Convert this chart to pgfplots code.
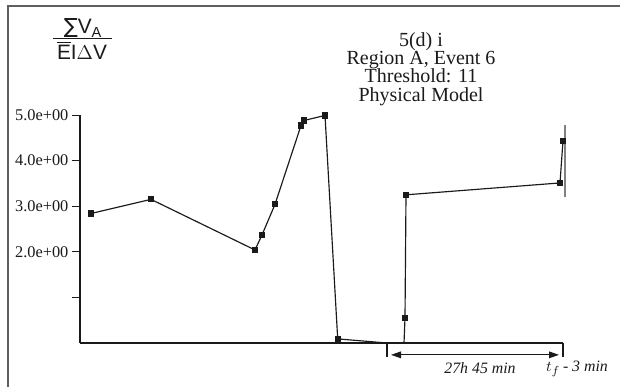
\documentclass[border=0pt]{standalone}
\usepackage{pgfplots}
\pgfplotsset{compat=1.18}
\usepackage{fontspec}
\setmainfont{Liberation Serif}
\newfontfamily\arial{Liberation Sans}
\newfontfamily\dejavu{DejaVu Sans}
\usetikzlibrary{arrows.meta}
\definecolor{ink}{HTML}{1A1A1A}
\begin{document}
\begin{tikzpicture}
\begin{axis}[
  scale only axis, width=289.8pt, height=136.8pt,
  xmin=80, xmax=563, ymin=0, ymax=5,
  axis x line*=bottom, axis y line*=left,
  xtick=\empty, ytick={1,2,3,4,5},
  yticklabels={,2.0e+00,3.0e+00,4.0e+00,5.0e+00},
  tick align=outside, major tick length=4.8pt,
  tick style={ink, line width=0.6pt},
  axis line style={ink, line width=0.7pt},
  yticklabel style={font=\fontsize{9.8}{10}\selectfont, text=ink, inner sep=2pt},
  clip=false,
]
\addplot[ink, line width=0.7pt, mark=square*, mark size=1.5pt,
  mark options={solid, fill=ink}] coordinates {
  (91,2.84) (151,3.15) (255,2.04) (262,2.37) (275,3.04) (301,4.77)
  (304,4.88) (325,4.99) (337.7,0.09)};
\addplot[ink, line width=0.7pt] coordinates {(337.7,0.09) (387,0)};
\addplot[ink, line width=0.7pt] coordinates {(404,0) (405,0.55) (406,3.25) (560,3.51) (563,4.44)};
\addplot[ink, only marks, mark=square*, mark size=1.5pt, mark options={fill=ink}] coordinates {
  (405,0.55) (406,3.25) (560,3.51) (563,4.44)};
% decorations
\draw[ink, line width=0.7pt] (axis cs:387,0) -- (axis cs:387,-0.31);
\draw[ink, line width=0.7pt] (axis cs:563,0) -- (axis cs:563,-0.31);
\draw[gray, line width=0.7pt] (axis cs:565,4.78) -- (axis cs:565,3.2);
\draw[ink, line width=0.7pt, {Triangle[length=6pt,width=4pt]}-{Triangle[length=6pt,width=4pt]}] (axis cs:391,-0.26) -- (axis cs:559,-0.26);
\node[font=\fontsize{9.5}{10}\selectfont\itshape, text=ink] at (axis cs:480,-0.56) {27h 45 min};
\node[font=\fontsize{9.5}{10}\selectfont\itshape, text=ink] at (axis cs:577,-0.56) {$t_f$\,- 3 min};
% title
\node[font=\fontsize{12}{11}\selectfont, text=ink, align=center, anchor=north, inner sep=0pt] at (axis cs:421,6.82) {5(d) i\\Region A, Event 6\\Threshold: 11\\Physical Model};
% y label
\node[font=\arial\fontsize{12.5}{13}\selectfont, text=ink, inner sep=0pt] at (axis cs:83,6.9) {{\dejavu ∑}V\textsubscript{A}};
\draw[ink, line width=0.6pt] (axis cs:53,6.68) -- (axis cs:112,6.68);
\node[font=\arial\fontsize{12.5}{13}\selectfont, text=ink, inner sep=0pt] at (axis cs:82,6.42) {$\overline{\mbox{E}}$I$\Delta$V};
% frame
\draw[ink!70, line width=0.8pt] (axis cs:8,-0.965) -- (axis cs:8,7.39) -- (axis cs:620,7.39);
\coordinate (bl) at (axis cs:0,-0.965);
\coordinate (tr) at (axis cs:620,7.522);
\end{axis}
\pgfresetboundingbox
\useasboundingbox (bl) rectangle (tr);
\end{tikzpicture}
\end{document}
